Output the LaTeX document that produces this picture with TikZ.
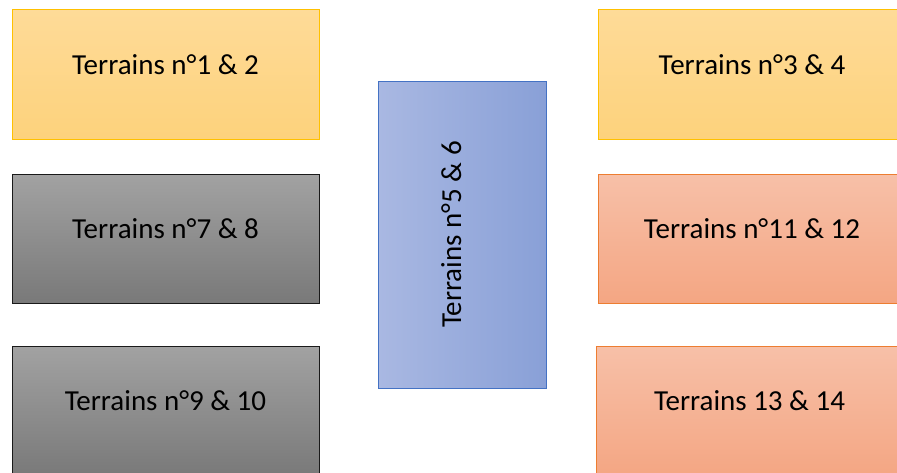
\documentclass[tikz,border=0pt]{standalone}
\usepackage{fontspec}
\setmainfont{Carlito}
\definecolor{yTop}{HTML}{FEDB98}
\definecolor{yBot}{HTML}{FDD27C}
\definecolor{yLine}{HTML}{FFC000}
\definecolor{gTop}{HTML}{A2A2A2}
\definecolor{gBot}{HTML}{797979}
\definecolor{gLine}{HTML}{1A1A1A}
\definecolor{bLeft}{HTML}{A9B8E2}
\definecolor{bRight}{HTML}{89A0D7}
\definecolor{bLine}{HTML}{4472C4}
\definecolor{oTop}{HTML}{F7C0A8}
\definecolor{oBot}{HTML}{F4A683}
\definecolor{oLine}{HTML}{ED7D31}
\begin{document}
\begin{tikzpicture}[x=1pt,y=-1pt,
  boxbase/.style={draw, line width=1pt, inner sep=0pt, outer sep=0pt},
  yellowbox/.style={boxbase, draw=yLine, top color=yTop, bottom color=yBot},
  graybox/.style={boxbase, draw=gLine, top color=gTop, bottom color=gBot},
  bluebox/.style={boxbase, draw=bLine, left color=bLeft, right color=bRight},
  orangebox/.style={boxbase, draw=oLine, top color=oTop, bottom color=oBot},
  lbl/.style={anchor=base, inner sep=0pt, font=\fontsize{29}{35}\selectfont, text=black}]
\useasboundingbox (0,0) rectangle (897,472);
\clip (0,0) rectangle (897,472);
% left column
\draw[yellowbox] (12,9) rectangle (319,139);
\coordinate (c1) at (165.5,74);
\node[lbl] (t1) at (c1) {Terrains n°1 \& 2};
\draw[graybox] (12,174) rectangle (319,303);
\coordinate (c7) at (165.5,238.5);
\node[lbl] (t7) at (c7) {Terrains n°7 \& 8};
\draw[graybox] (12,346) rectangle (319,476);
\coordinate (c9) at (165.5,410);
\node[lbl] (t9) at (c9) {Terrains n°9 \& 10};
% center
\draw[bluebox] (378,81) rectangle (546,388);
\coordinate (c5) at (461,234.5);
\node[lbl, rotate=90] (t5) at (c5) {Terrains n°5 \& 6};
% right column
\draw[yellowbox] (598,9) rectangle (906,139);
\coordinate (c3) at (752,74);
\node[lbl] (t3) at (c3) {Terrains n°3 \& 4};
\draw[orangebox] (598,174) rectangle (906,303);
\coordinate (c11) at (752,238.5);
\node[lbl] (t11) at (c11) {Terrains n°11 \& 12};
\draw[orangebox] (596,346) rectangle (903,476);
\coordinate (c13) at (749.5,410);
\node[lbl] (t13) at (c13) {Terrains 13 \& 14};
\end{tikzpicture}
\end{document}
